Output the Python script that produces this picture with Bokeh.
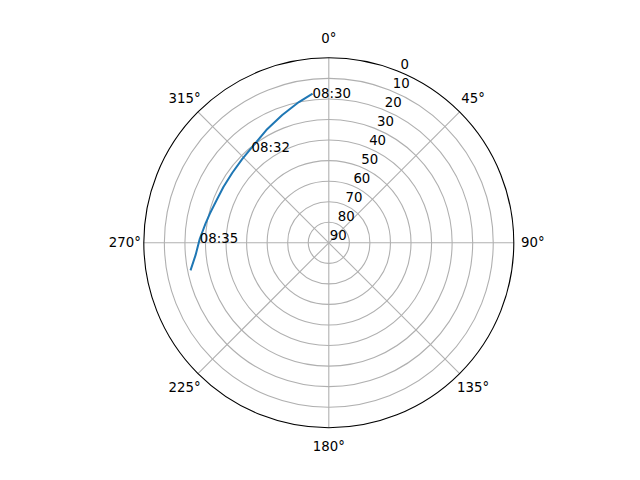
import numpy as np
from bokeh.plotting import figure
from bokeh.models import Range1d
from bokeh.core.properties import value
from bokeh.embed import file_html
from bokeh.resources import INLINE

# ---- data (sky plot: azimuth in degrees, elevation in degrees) ----
track_az = [353.8, 348.0, 340.0, 331.0, 322.0, 314.0, 306.0, 298.0, 290.6, 283.7, 278.8, 271.8, 264.7, 258.7]
track_el = [17.0, 20.0, 23.8, 27.3, 30.2, 31.4, 32.0, 32.0, 31.6, 30.4, 29.3, 27.2, 24.9, 21.4]
label_times = ["08:30", "08:32", "08:35"]
label_az = [353.8, 321.0, 271.8]
label_el = [17.0, 30.3, 27.2]
theta_ticks = [0, 45, 90, 135, 180, 225, 270, 315]
theta_labels = ["0°", "45°", "90°", "135°", "180°", "225°", "270°", "315°"]
r_ticks = [0, 10, 20, 30, 40, 50, 60, 70, 80, 90]   # elevation tick labels
r_labels = ["0", "10", "20", "30", "40", "50", "60", "70", "80", "90"]
RMAX = 90.0

def to_xy(az, el):
    az = np.radians(np.asarray(az, dtype=float))
    r = RMAX - np.asarray(el, dtype=float)
    return r * np.sin(az), r * np.cos(az)

W, H = 624, 464
k = 185.0 / RMAX           # pixels per unit
cx, cy = 328.3, 242.3      # centre in figure pixels
p = figure(width=W, height=H, output_backend="svg", toolbar_location=None,
           x_range=Range1d(-cx / k, (W - cx) / k),
           y_range=Range1d(-(H - cy) / k, cy / k),
           x_axis_location=None, y_axis_location=None, min_border=0, title=None)
p.grid.visible = False
p.outline_line_color = None
p.background_fill_color = "white"

FONT = value("DejaVu Sans")
grid_col = "#b0b0b0"

# rings
ring_r = [RMAX - e for e in r_ticks if 0 < e < 90]
p.circle(x=[0] * len(ring_r), y=[0] * len(ring_r), radius=ring_r,
         fill_color=None, line_color=grid_col, line_width=1.1)
# spokes
sx, sy = to_xy(theta_ticks, [0] * len(theta_ticks))
p.segment(x0=[0] * len(sx), y0=[0] * len(sy), x1=sx, y1=sy, line_color=grid_col, line_width=1.1)
# outer spine
p.circle(x=[0], y=[0], radius=[RMAX], fill_color=None, line_color="black", line_width=1.1)

# theta labels
lx, ly = to_xy(theta_ticks, [RMAX - 204.0 / k] * len(theta_ticks))
p.text(x=lx, y=ly, text=theta_labels, text_align="center", text_baseline="middle",
       text_font=FONT, text_font_size="13.3px", text_color="black")

# radial labels at 22.5 deg
rx, ry = to_xy([22.5] * len(r_ticks), r_ticks)
p.text(x=rx, y=ry, text=r_labels, text_align="left", text_baseline="bottom", x_offset=1, y_offset=-3,
       text_font=FONT, text_font_size="13.3px", text_color="black")

# track
tx, ty = to_xy(track_az, track_el)
p.line(tx, ty, line_color="#1f77b4", line_width=2)

# time annotations
ax_, ay_ = to_xy(label_az, label_el)
p.text(x=ax_, y=ay_, text=label_times, text_align="left", text_baseline="alphabetic",
       text_font=FONT, text_font_size="13.3px", text_color="black")

open("out.html", "w").write(file_html(p, INLINE))
